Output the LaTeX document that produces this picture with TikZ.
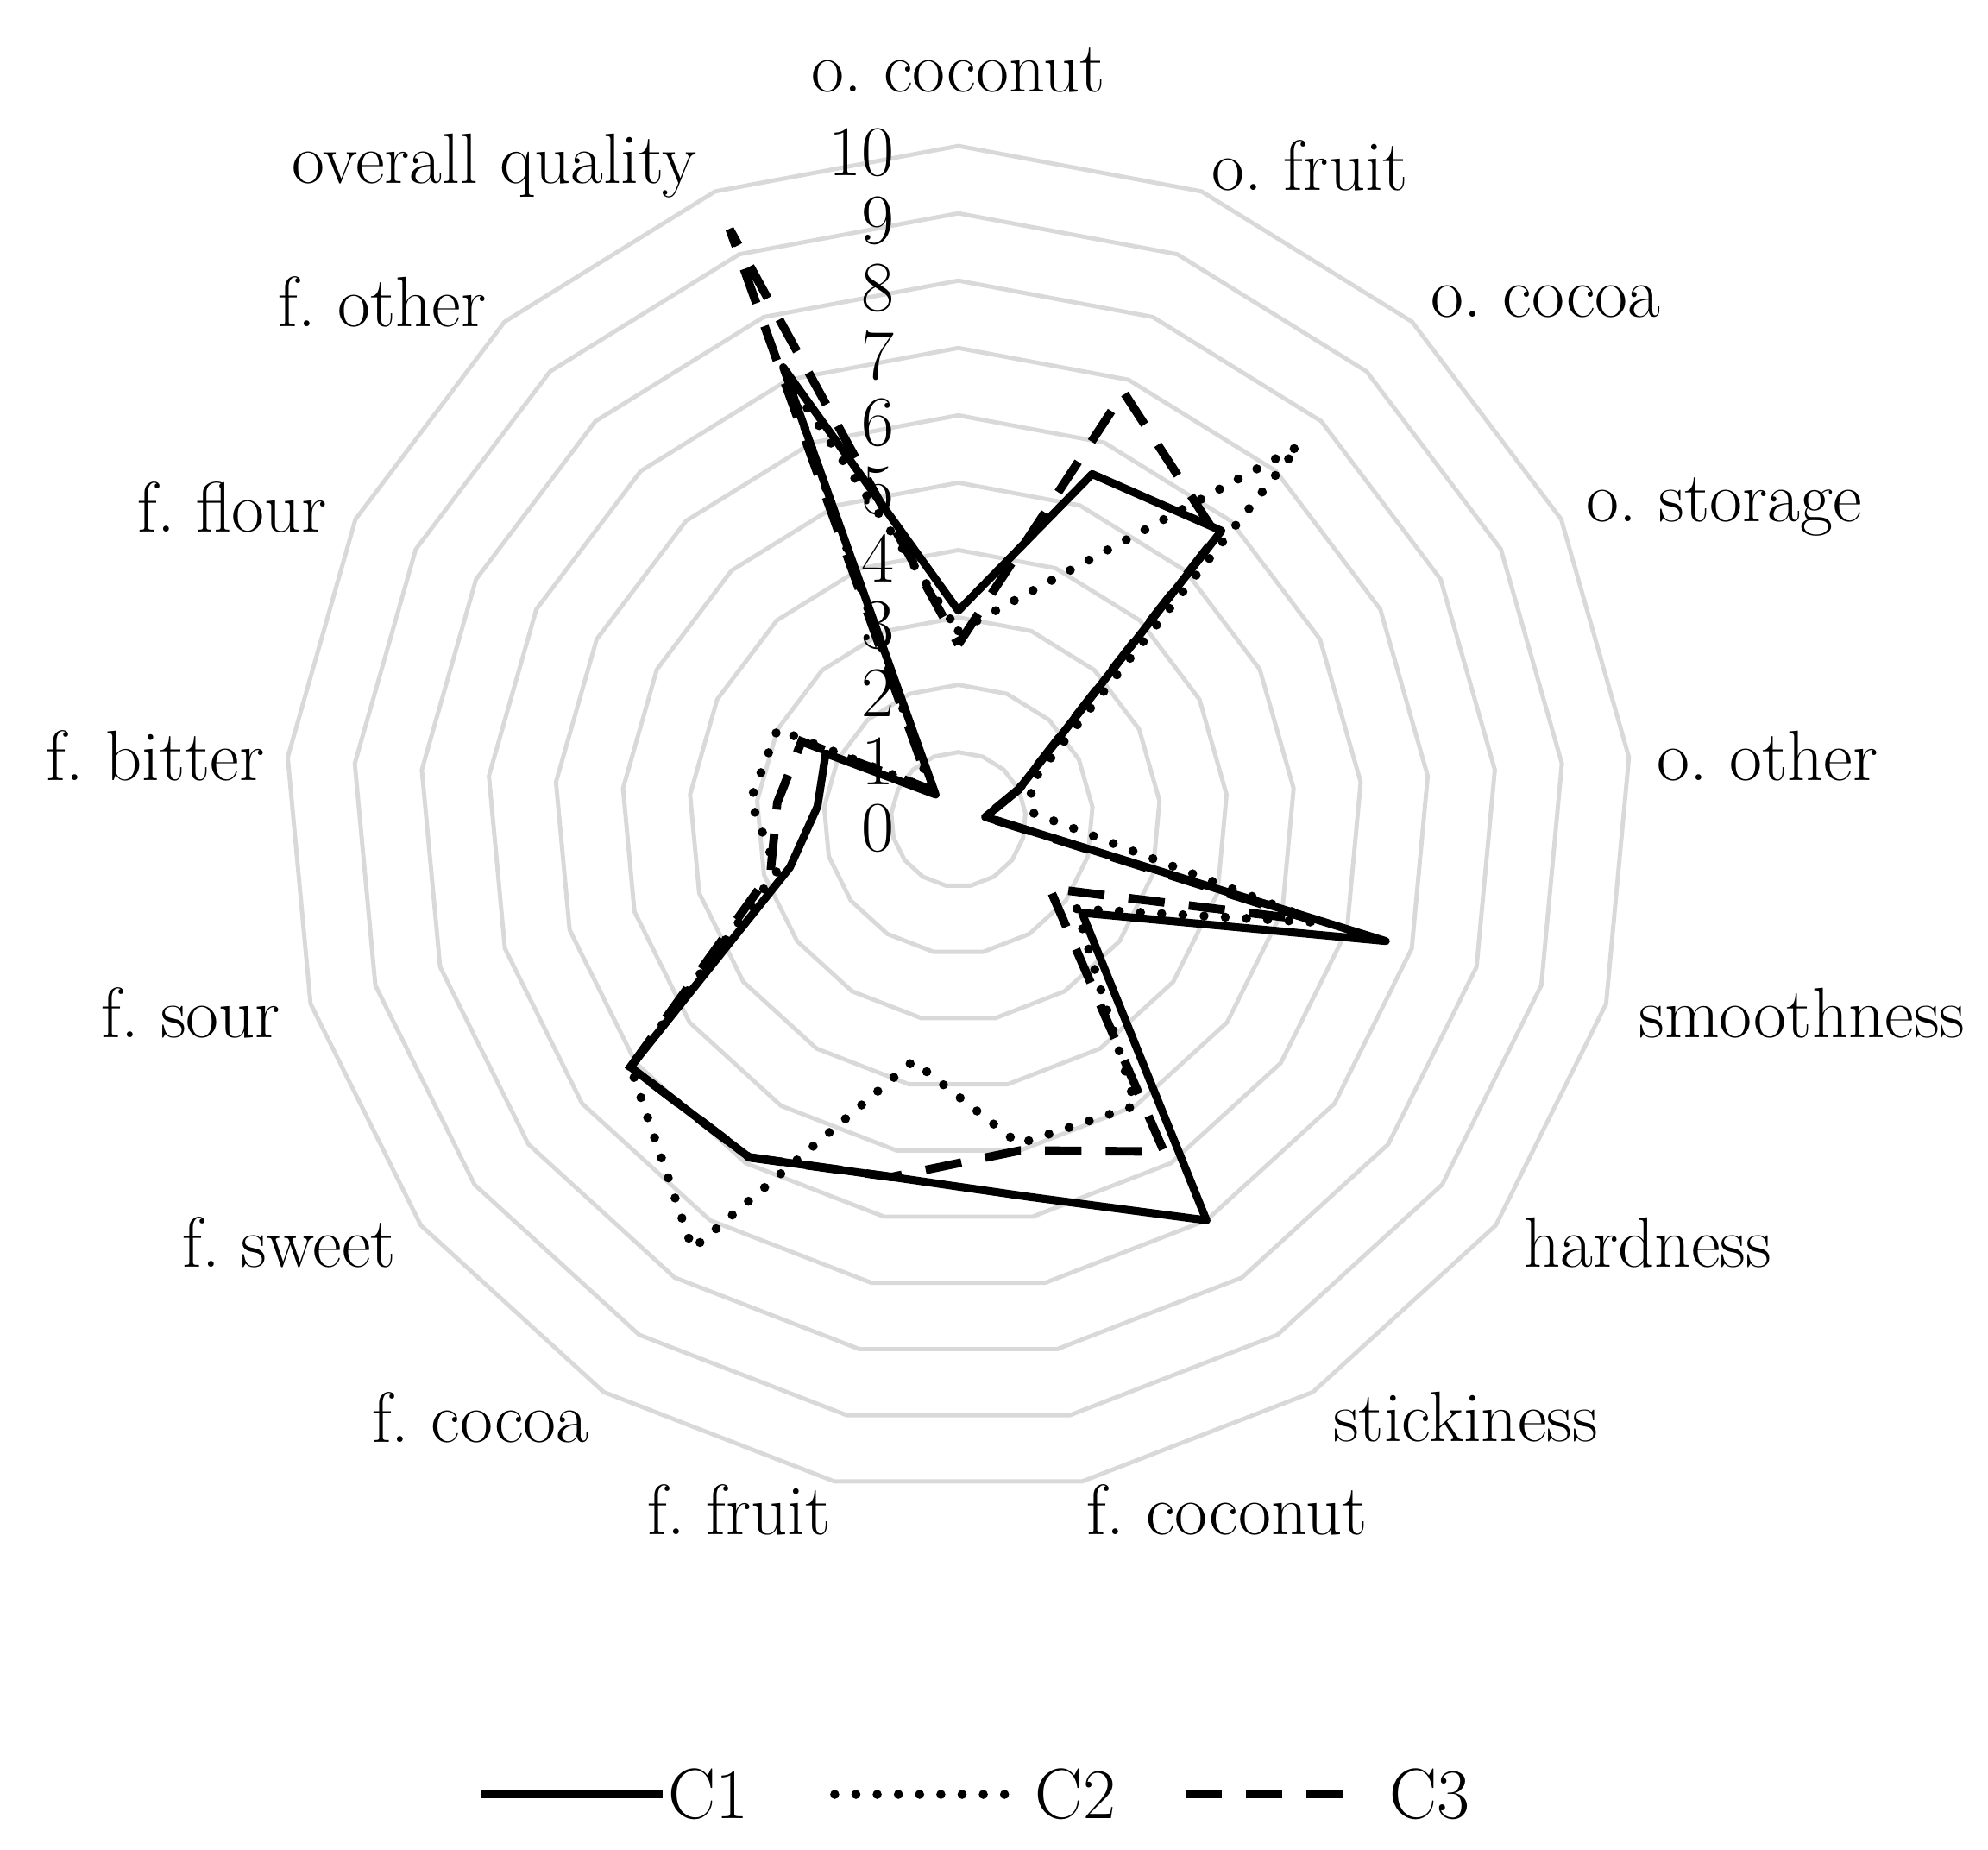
\documentclass[tikz,border=0pt]{standalone}
\begin{document}
\frenchspacing
\begin{tikzpicture}[x=0.01477cm,y=-0.01477cm,
  lbl/.style={font=\fontsize{23.5}{28}\selectfont, inner sep=0pt},
  num/.style={font=\fontsize{23.5}{28}\selectfont, inner sep=0pt, anchor=east},
  gridline/.style={draw=black!15, line width=1.4pt},
  ser/.style={line width=2.6pt, line join=round},
  dotser/.style={line width=3pt, line cap=round, dash pattern=on 0pt off 7pt},
  dashser/.style={line width=2.8pt, dash pattern=on 12pt off 8pt}]
\useasboundingbox (0,0) rectangle (1560,1451);
\def\cx{752}\def\cy{643}\def\u{52.85}
% grid
\foreach \r in {1,...,10}{
  \draw[gridline] (\cx,{\cy-\u*\r}) \foreach \k in {1,...,16}{ -- ({\cx+\u*\r*sin(\k*360/17)},{\cy-\u*\r*cos(\k*360/17)}) } -- cycle;
}
% scale numbers
\foreach \v in {0,...,10}{
  \node[num] (n\v) at (702,{650-53*\v}) {\v};
}
% data
\foreach[count=\k from 0] \v in {3.1,5.5,5.8,1.0,0.4,6.6,2.3,7.0,5.7,5.4,5.9,6.1,2.6,2.1,2.2,0.5,7.2}
  \coordinate (a\k) at ({\cx+\u*\v*sin(\k*360/17)},{\cy-\u*\v*cos(\k*360/17)});
\foreach[count=\k from 0] \v in {2.8,3.8,7.5,1.2,1.1,5.6,2.2,5.0,4.9,3.65,7.5,6.1,2.8,3.1,3.0,0.6,7.0}
  \coordinate (b\k) at ({\cx+\u*\v*sin(\k*360/17)},{\cy-\u*\v*cos(\k*360/17)});
\foreach[count=\k from 0] \v in {2.6,6.8,5.7,1.0,0.4,5.5,1.7,5.8,5.0,5.4,5.9,6.1,2.9,2.7,2.6,0.6,9.4}
  \coordinate (c\k) at ({\cx+\u*\v*sin(\k*360/17)},{\cy-\u*\v*cos(\k*360/17)});
\draw[ser] (a0) \foreach \k in {1,...,16}{ -- (a\k) } -- cycle;
\draw[dotser] (b0) \foreach \k in {1,...,16}{ -- (b\k) } -- cycle;
\draw[dashser] (c0) \foreach \k in {1,...,16}{ -- (c\k) } -- cycle;
% axis labels
\node[lbl] (l0) at (752,55) {o. coconut};
\node[lbl] (l1) at (1028,130) {o. fruit};
\node[lbl] (l2) at (1213,237) {o. cocoa};
\node[lbl] (l3) at (1353,398) {o. storage};
\node[lbl] (l4) at (1387,593) {o. other};
\node[lbl] (l5) at (1414,795) {smoothness};
\node[lbl] (l6) at (1293,975) {hardness};
\node[lbl] (l7) at (1150,1112) {stickiness};
\node[lbl] (l8) at (963,1185) {f. coconut};
\node[lbl] (l9) at (580,1185) {f. fruit};
\node[lbl] (l10) at (377,1112) {f. cocoa};
\node[lbl] (l11) at (227,975) {f. sweet};
\node[lbl] (l12) at (150,795) {f. sour};
\node[lbl] (l13) at (122,593) {f. bitter};
\node[lbl] (l14) at (182,398) {f. flour};
\node[lbl] (l15) at (300,237) {f. other};
\node[lbl] (l16) at (388,130) {overall quality};
% legend
\coordinate (s1) at (378,1408); \coordinate (e1) at (520,1408);
\coordinate (s2) at (655,1408); \coordinate (e2) at (790,1408);
\coordinate (s3) at (930,1408); \coordinate (e3) at (1060,1408);
\draw[ser] (s1) -- (e1);
\draw[dotser] (s2) -- (e2);
\draw[dashser] (s3) -- (e3);
\node[lbl, anchor=west] (t1) at (524,1408) {C1};
\node[lbl, anchor=west] (t2) at (812,1408) {C2};
\node[lbl, anchor=west] (t3) at (1090,1408) {C3};
\end{tikzpicture}
\end{document}
